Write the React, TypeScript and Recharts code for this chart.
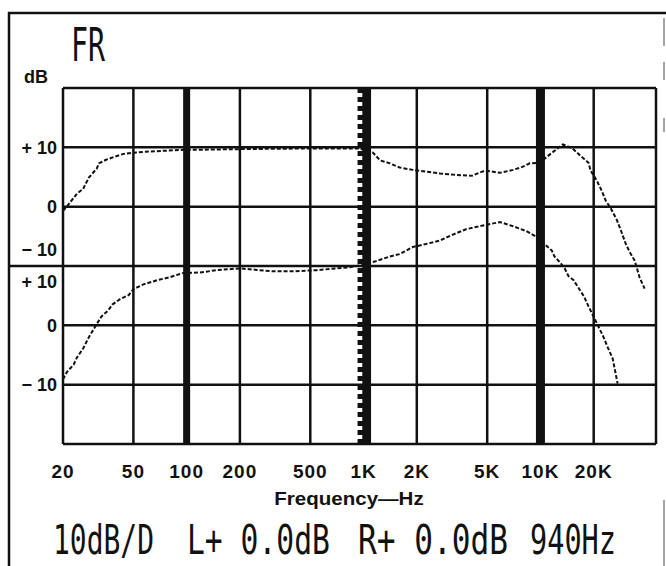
import { LineChart, Line, XAxis, YAxis, CartesianGrid, ReferenceLine } from "recharts";

// upper trace (dB relative to the upper 0 line)
const upperFreq = [
  20, 21, 24, 26, 28, 31, 32, 35, 39, 44, 50, 62, 98, 119, 200, 437, 952, 1130, 1240, 1410,
  1600, 1900, 2250, 2700, 3200, 4100, 4500, 4900, 5900, 7000, 7900, 8700, 9900, 11400, 13400,
  15200, 17100, 18700, 19200, 20800, 22200, 23400, 24900, 27000, 28400, 30300, 31900, 34100,
  36400, 38800,
];
const upperDb = [
  -0.7, 0, 2.2, 3.0, 4.9, 6.4, 7.3, 7.9, 8.4, 8.9, 9.1, 9.3, 9.6, 9.6, 9.7, 9.8, 9.8, 9.1, 7.8, 7.3,
  6.6, 6.2, 5.9, 5.6, 5.4, 5.2, 5.7, 6.1, 5.7, 6.2, 6.7, 7.3, 7.4, 8.9, 10.5,
  9.8, 8.4, 7.4, 6.1, 4.4, 2.7, 1.0, -0.2, -2.2, -3.9, -6.2, -7.6, -9.1,
  -12.0, -13.8,
];

// lower trace (dB relative to the lower 0 line)
const lowerFreq = [
  20, 21, 23, 24, 26, 28, 31, 33, 36, 38, 42, 47, 50, 57, 68, 80, 95, 119, 148, 200,
  307, 398, 545, 836, 1000, 1170, 1410, 1600, 1900, 2250, 2700, 3200, 3800, 4500, 5900, 7000,
  8300, 9400, 11600, 12000, 12900, 13700, 14400, 15400, 16500, 17600, 18700, 22500, 24000,
  25600, 27300,
];
const lowerDb = [
  -9.1, -7.9, -6.6, -5.4, -3.9, -2.0, 0.2, 1.5, 2.5, 3.5, 4.4, 5.1, 6.1, 6.9, 7.6, 8.1, 8.8, 8.9, 9.3, 9.6,
  9.1, 9.1, 9.3, 9.8, 10.2, 10.8, 11.6, 12.0, 13.2, 13.7, 14.3, 15.3, 16.2, 16.7, 17.4, 16.7,
  15.9, 15.0, 12.6, 11.6, 10.6, 9.6, 8.3, 7.6, 6.2, 4.9, 3.2, -1.7, -3.7,
  -5.6, -9.8,
];

const freqTicks = [20, 50, 100, 200, 500, 1000, 2000, 5000, 10000, 20000];
const freqLabels = ["20", "50", "100", "200", "500", "1K", "2K", "5K", "10K", "20K"];
// two stacked 10dB/div panels share one axis; gridTicks are panel rows
const gridTicks = [30, 20, 10, 0, -10, -20, -30];
const readout = ["10dB/D", "L+ 0.0dB", "R+ 0.0dB", "940Hz"];

const UPPER_OFFSET = 10;
const LOWER_OFFSET = -10;

const upperData = upperFreq.map((f, i) => ({ f, v: upperDb[i] + UPPER_OFFSET }));
const lowerData = lowerFreq.map((f, i) => ({ f, v: lowerDb[i] + LOWER_OFFSET }));

const INK = "#111";
const SANS = "'Liberation Sans', Arial, sans-serif";
const LCD = "'DejaVu Sans Mono', monospace";
const MONO_ADV = 0.602; // DejaVu Sans Mono advance per em

const labelStyle = { fontFamily: SANS, fontWeight: 700, fontSize: 18, fill: INK };

const FreqTick = ({ x, y, payload }: any) => {
  const i = freqTicks.indexOf(payload.value);
  return (
    <text x={x} y={y + 32} textAnchor="middle" {...labelStyle} fontSize={19} letterSpacing={1}>
      {freqLabels[i]}
    </text>
  );
};

const DbTick = ({ x, y, payload }: any) => {
  const v = payload.value;
  const t = (s: string, dy: number) => (
    <text x={x} y={y + dy} dy="0.36em" textAnchor="end" {...labelStyle}>
      {s}
    </text>
  );
  if (v === 20) return t("+ 10", 0);
  if (v === 10 || v === -10) return t("0", 0);
  if (v === -20) return t("\u2212 10", 0);
  if (v === 0)
    return (
      <g>
        <line x1={10} x2={x + 6} y1={y} y2={y} stroke={INK} strokeWidth={2.5} />
        {t("\u2212 10", -16)}
        {t("+ 10", 16)}
      </g>
    );
  return <g />;
};

const CheckerMarker = (props: any) => {
  const { x1, y1, y2 } = props;
  return (
    <g>
      <line x1={x1 + 3.5} x2={x1 + 3.5} y1={y1} y2={y2} stroke={INK} strokeWidth={8} />
      <line x1={x1 - 3} x2={x1 - 3} y1={y1} y2={y2} stroke={INK} strokeWidth={6} strokeDasharray="5 4" />
    </g>
  );
};

// condensed display text, squeezed to a given width
const Lcd = ({ x, y, w, size, children }: any) => {
  const sx = w / (String(children).length * MONO_ADV * size);
  return (
    <text transform={`translate(${x},${y}) scale(${sx.toFixed(3)},1)`} fontFamily={LCD} fontSize={size} fill={INK}>
      {children}
    </text>
  );
};

const readoutPos = [
  { x: 53, w: 101 },
  { x: 187, w: 143 },
  { x: 358, w: 150 },
  { x: 530, w: 86 },
];

export default function App() {
  return (
    <div style={{ position: "absolute", left: 0, top: 0, width: 666, height: 566, background: "#fff" }}>
      <LineChart width={666} height={566} margin={{ top: 88, right: 10, bottom: 0, left: 0 }}>
        <CartesianGrid stroke={INK} strokeWidth={2.5} />
        <XAxis
          dataKey="f"
          type="number"
          scale="log"
          domain={[20, 45000]}
          ticks={freqTicks}
          interval={0}
          allowDataOverflow
          axisLine={false}
          tickLine={false}
          tickSize={0}
          height={122}
          tick={<FreqTick />}
        />
        <YAxis
          type="number"
          domain={[-30, 30]}
          ticks={gridTicks}
          interval={0}
          axisLine={false}
          tickLine={false}
          tickSize={0}
          tickMargin={6}
          width={63}
          tick={<DbTick />}
        />
        <ReferenceLine x={100} stroke={INK} strokeWidth={7} />
        <ReferenceLine x={1000} shape={<CheckerMarker />} />
        <ReferenceLine x={10000} stroke={INK} strokeWidth={9} />
        <Line
          data={upperData}
          dataKey="v"
          type="linear"
          stroke={INK}
          strokeWidth={2}
          strokeDasharray="4 2"
          dot={false}
          isAnimationActive={false}
        />
        <Line
          data={lowerData}
          dataKey="v"
          type="linear"
          stroke={INK}
          strokeWidth={2}
          strokeDasharray="4 2"
          dot={false}
          isAnimationActive={false}
        />
      </LineChart>
      <svg
        width={666}
        height={566}
        style={{ position: "absolute", left: 0, top: 0, pointerEvents: "none" }}
      >
        <line x1={8} x2={666} y1={13} y2={13} stroke={INK} strokeWidth={2.5} />
        <line x1={9} x2={9} y1={12} y2={566} stroke={INK} strokeWidth={2.5} />
        <line x1={664} x2={664} y1={18} y2={46} stroke="#888" strokeWidth={1.5} />
        <line x1={664} x2={664} y1={62} y2={80} stroke="#888" strokeWidth={1.5} />
        <line x1={664} x2={664} y1={118} y2={132} stroke="#888" strokeWidth={1.5} />
        <line x1={664} x2={664} y1={500} y2={566} stroke="#888" strokeWidth={1.5} />
        <Lcd x={71} y={61} w={34} size={46}>
          FR
        </Lcd>
        <text x={24} y={83} {...labelStyle}>
          dB
        </text>
        <text transform="translate(349,505) scale(1.14,1)" textAnchor="middle" {...labelStyle}>
          Frequency—Hz
        </text>
        {readout.map((s, i) => (
          <Lcd key={s} x={readoutPos[i].x} y={554} w={readoutPos[i].w} size={41}>
            {s}
          </Lcd>
        ))}
      </svg>
    </div>
  );
}
